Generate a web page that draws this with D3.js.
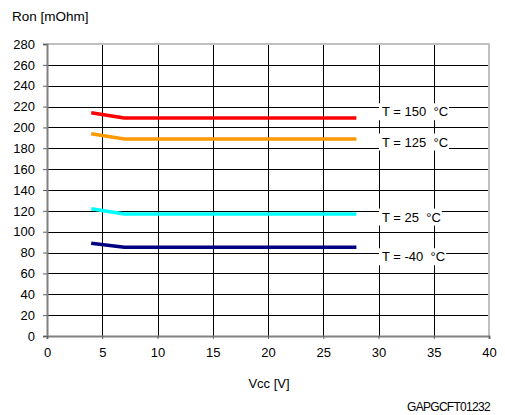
<!DOCTYPE html>
<html><head><meta charset="utf-8">
<script src="https://cdn.jsdelivr.net/npm/d3@7"></script>
<style>body{margin:0;background:#fff;} svg{display:block;font-family:"Liberation Sans",Arial,sans-serif;}</style>
</head><body>
<svg id="c" width="505" height="415"></svg>
<script>
const vcc = [4, 7, 28];
const seriesNames = ["T = 150  °C", "T = 125  °C", "T = 25  °C", "T = -40  °C"];
const seriesColors = ["#ff0000", "#ff9900", "#00ffff", "#000080"];
const r150 = [214, 209, 209];
const r125 = [194, 189, 189];
const r25 = [122, 117, 117];
const rm40 = [89, 85, 85];
const labelY = [215, 186, 114, 76];
const xTicks = [0,5,10,15,20,25,30,35,40];
const yTicks = [0,20,40,60,80,100,120,140,160,180,200,220,240,260,280];

const svg = d3.select("#c");
const x = d3.scaleLinear().domain([0,40]).range([47,489]);
const y = d3.scaleLinear().domain([0,280]).range([336,44]);
const series = [r150, r125, r25, rm40];

// grid
svg.append("g").selectAll("line").data(yTicks.slice(1,-1)).join("line")
  .attr("x1",47).attr("x2",489).attr("y1",d=>Math.round(y(d))+0.5).attr("y2",d=>Math.round(y(d))+0.5)
  .attr("stroke","#000").attr("stroke-width",1);
svg.append("g").selectAll("line").data(xTicks.slice(1,-1)).join("line")
  .attr("y1",44).attr("y2",336).attr("x1",d=>Math.round(x(d))+0.5).attr("x2",d=>Math.round(x(d))+0.5)
  .attr("stroke","#000").attr("stroke-width",1);
// border top/right
svg.append("line").attr("x1",47).attr("x2",490).attr("y1",44).attr("y2",44).attr("stroke","#c0c0c0").attr("stroke-width",2);
svg.append("line").attr("x1",489).attr("x2",489).attr("y1",44).attr("y2",337).attr("stroke","#c0c0c0").attr("stroke-width",2);

// axes
const ya = svg.append("g").attr("transform","translate(47,0)")
  .call(d3.axisLeft(y).tickValues(yTicks).tickSize(4).tickPadding(8));
const xa = svg.append("g").attr("transform","translate(0,336)")
  .call(d3.axisBottom(x).tickValues(xTicks).tickSize(3).tickPadding(9));
[ya,xa].forEach(a=>{
  a.select(".domain").attr("stroke","#808080").attr("stroke-width",2);
  a.selectAll(".tick line").attr("stroke","#606060");
  a.selectAll("text").attr("font-size",13).attr("fill","#000").attr("font-family","Liberation Sans, Arial, sans-serif");
});

// series
const line = d3.line().x((d,i)=>x(vcc[i])).y(d=>y(d));
series.forEach((s,k)=>{
  svg.append("path").attr("d",line(s)).attr("fill","none")
    .attr("stroke",seriesColors[k]).attr("stroke-width",3.5).attr("stroke-linejoin","round");
});

// labels
seriesNames.forEach((n,k)=>{
  const g = svg.append("g");
  const t = g.append("text").attr("x",382).attr("y",y(labelY[k])+4.5).attr("font-size",13)
    .style("white-space","pre").text(n);
  const bb = t.node().getBBox();
  g.insert("rect","text").attr("x",bb.x-3).attr("y",bb.y-1).attr("width",bb.width+4).attr("height",bb.height+2).attr("fill","#fff");
});

svg.append("text").attr("x",12).attr("y",21).attr("font-size",13.5).text("Ron [mOhm]");
svg.append("text").attr("x",269).attr("y",388).attr("text-anchor","middle").attr("font-size",13).text("Vcc [V]");
svg.append("text").attr("x",490).attr("y",411).attr("text-anchor","end").attr("font-size",12).attr("letter-spacing",-0.7).text("GAPGCFT01232");
</script>
</body></html>
